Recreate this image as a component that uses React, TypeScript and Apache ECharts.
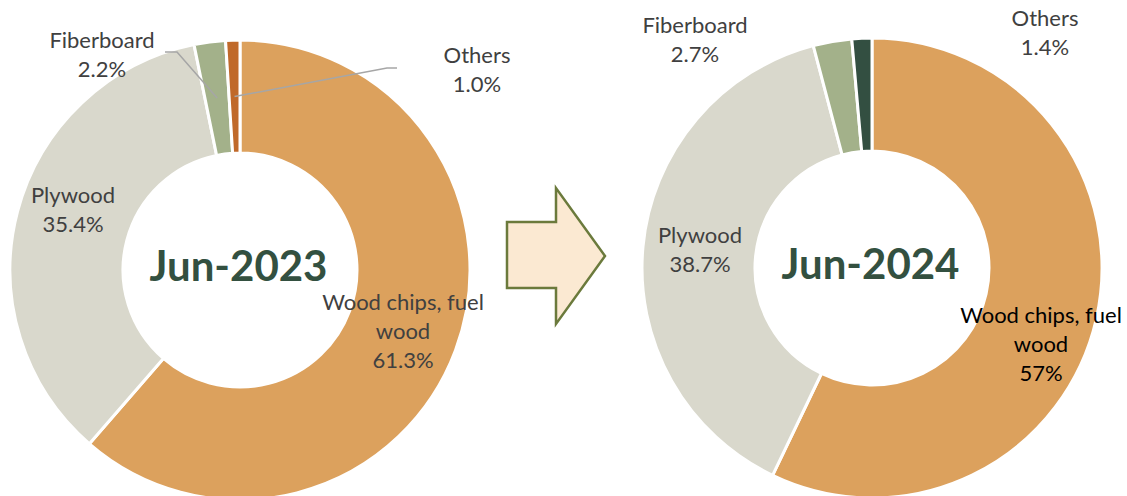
import React, { useEffect, useRef } from 'react';
import * as echarts from 'echarts';

// ---- data ----
const categories = ['Wood chips, fuel wood', 'Plywood', 'Fiberboard', 'Others'];
const periods = ['Jun-2023', 'Jun-2024'];
const values2023 = [61.3, 35.4, 2.2, 1.0];
const values2024 = [57, 38.7, 2.7, 1.4];
const pctLabels2023 = ['61.3%', '35.4%', '2.2%', '1.0%'];
const pctLabels2024 = ['57%', '38.7%', '2.7%', '1.4%'];

// ---- styling / layout ----
const colors2023 = ['#DCA15D', '#D9D8CC', '#A3B18A', '#C0692A'];
const colors2024 = ['#DCA15D', '#D9D8CC', '#A3B18A', '#334F41'];
const FONT = 'Lato';
const R_IN = 117;
const R_OUT = 230;
const centers = [
  [240, 270],
  [872, 268],
];
const titleCenters = [
  [238.5, 265],
  [870.5, 263],
];
// label block anchor (center x, top y) for each slice
const labelPos = [
  [[403, 287], [73, 180], [102, 25], [477, 40]],
  [[1041, 300], [700, 220], [695, 10], [1045, 3]],
];
// leader line elbows (label side) — only for small slices of the first chart
const leaderElbows: (number[][] | null)[][] = [
  [null, null, [[177, 52], [165, 52]], [[387, 68], [397, 68]]],
  [null, null, null, null],
];
const labelColors = [
  ['#404040', '#404040', '#404040', '#404040'],
  ['#000000', '#404040', '#404040', '#404040'],
];

function displayName(n: string) {
  return n.replace(', fuel ', ', fuel\n');
}

function midPoint(values: number[], idx: number, c: number[]) {
  const total = values.reduce((a, b) => a + b, 0);
  let before = 0;
  for (let i = 0; i < idx; i++) before += values[i];
  const frac = (before + values[idx] / 2) / total;
  const th = frac * Math.PI * 2;
  const r = (R_IN + R_OUT) / 2;
  return [c[0] + r * Math.sin(th), c[1] - r * Math.cos(th)];
}

function buildSeries(s: number, values: number[], pct: string[], colors: string[]) {
  return {
    type: 'pie',
    center: centers[s],
    radius: [R_IN, R_OUT],
    startAngle: 90,
    clockwise: true,
    avoidLabelOverlap: false,
    itemStyle: { borderColor: '#ffffff', borderWidth: 3 },
    label: {
      show: true,
      position: 'outside',
      fontFamily: FONT,
      fontSize: 22,
      lineHeight: 29,
      align: 'center',
      formatter: (p: any) => displayName(p.name) + '\n' + pct[p.dataIndex],
    },
    labelLine: { show: false },
    labelLayout: (params: any) => {
      const pos = labelPos[s][params.dataIndex];
      return { x: pos[0], y: pos[1], align: 'center', verticalAlign: 'top' };
    },
    emphasis: { disabled: true },
    data: categories.map((name, i) => ({
      name,
      value: values[i],
      itemStyle: { color: colors[i] },
      label: { color: labelColors[s][i] },
    })),
  };
}

function leaderLines() {
  const all = [values2023, values2024];
  const out: any[] = [];
  all.forEach((vals, s) => {
    vals.forEach((_, i) => {
      const elbow = leaderElbows[s][i];
      if (!elbow) return;
      out.push({
        type: 'polyline',
        z: 20,
        shape: { points: [midPoint(vals, i, centers[s]), elbow[0], elbow[1]] },
        style: { stroke: '#A6A6A6', lineWidth: 1.5, fill: 'none' },
      });
    });
  });
  return out;
}

export default function App() {
  const ref = useRef<HTMLDivElement>(null);
  useEffect(() => {
    if (!ref.current) return;
    const chart = echarts.init(ref.current, undefined, { renderer: 'svg' });
    chart.setOption({
      animation: false,
      backgroundColor: '#ffffff',
      series: [
        buildSeries(0, values2023, pctLabels2023, colors2023),
        buildSeries(1, values2024, pctLabels2024, colors2024),
      ],
      graphic: [
        {
          type: 'polygon',
          shape: {
            points: [
              [507, 222], [556, 222], [556, 188], [605, 256],
              [556, 324], [556, 288], [507, 288],
            ],
          },
          style: { fill: '#FBE9D2', stroke: '#6B7A3C', lineWidth: 2.5 },
        },
        ...leaderLines(),
        ...periods.map((t, i) => ({
          type: 'text',
          x: titleCenters[i][0],
          y: titleCenters[i][1],
          z: 10,
          style: {
            text: t,
            align: 'center',
            verticalAlign: 'middle',
            fontSize: 42,
            fontWeight: 'bold',
            fontFamily: FONT,
            fill: '#335040',
          },
        })),
      ],
    });
    return () => chart.dispose();
  }, []);
  return (
    <div
      ref={ref}
      style={{ position: 'fixed', left: 0, top: 0, width: 1127, height: 496 }}
    />
  );
}
